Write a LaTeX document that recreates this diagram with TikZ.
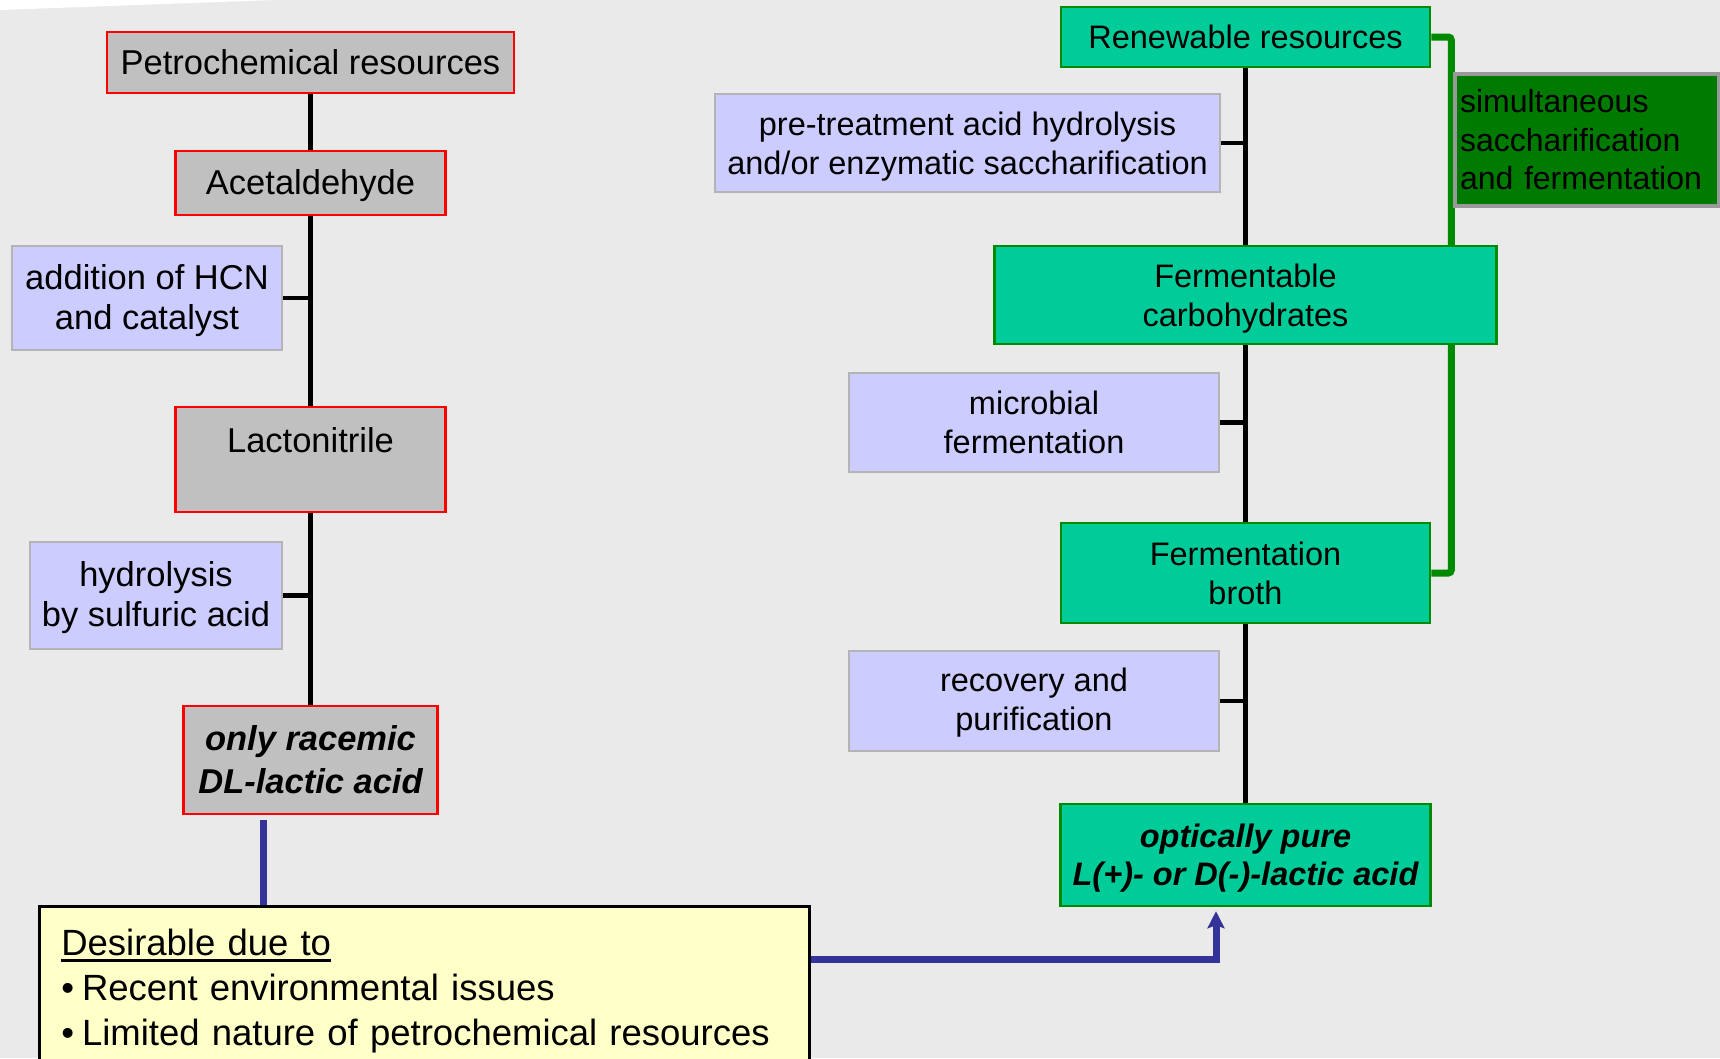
\documentclass[tikz,border=0pt]{standalone}
\usepackage{fontspec}
\setmainfont{Liberation Sans}
\usetikzlibrary{arrows.meta,backgrounds}
\definecolor{bgc}{HTML}{EAEAEA}
\definecolor{grayfill}{HTML}{C0C0C0}
\definecolor{redb}{HTML}{FF0000}
\definecolor{lavfill}{HTML}{CCCCFF}
\definecolor{lavb}{HTML}{B4B4B4}
\definecolor{grnfill}{HTML}{00CC99}
\definecolor{grnb}{HTML}{008A00}
\definecolor{ssffill}{HTML}{007A00}
\definecolor{ssfb}{HTML}{999999}
\definecolor{bluel}{HTML}{333399}
\definecolor{yelfill}{HTML}{FFFFC8}
\newcommand\fntL{\fontsize{34.5bp}{40bp}\selectfont}
\newcommand\fntLB{\fontsize{34.5bp}{43bp}\selectfont\bfseries\itshape}
\newcommand\fntR{\fontsize{32.5bp}{39bp}\selectfont}
\newcommand\fntRB{\fontsize{32.5bp}{38.5bp}\selectfont\bfseries\itshape}
\newcommand\fntS{\fontsize{32bp}{38.5bp}\selectfont}
\newcommand\fntY{\fontsize{36.5bp}{45bp}\selectfont}
\newcommand\dn[1]{\rule{0pt}{#1}}
\newsavebox\myulbox
\newcommand\myul[1]{\sbox\myulbox{#1}\rlap{\rule[-7bp]{\wd\myulbox}{2.8bp}}\usebox\myulbox}
\begin{document}
\begin{tikzpicture}[x=1bp,y=-1bp,
  box/.style={inner sep=0pt, align=center, line width=2.5bp},
  graybox/.style={box, fill=grayfill, draw=redb, font=\fntL},
  lavbox/.style={box, fill=lavfill, draw=lavb},
  grnbox/.style={box, fill=grnfill, draw=grnb, font=\fntR},
  blk/.style={line width=4.5bp, black},
  gline/.style={line width=7bp, draw=grnb, rounded corners=3bp},
  bline/.style={line width=7bp, draw=bluel}
]
\clip (0,0) rectangle (1720,1058);

% left column
\node[graybox, minimum width=407bp, minimum height=61bp] (petro) at (310.5,62.5) {Petrochemical resources};
\node[graybox, minimum width=270bp, minimum height=64bp] (acet) at (310.5,183) {\dn{31bp}Acetaldehyde};
\node[lavbox, font=\fntL, minimum width=270bp, minimum height=104bp] (hcn) at (147,298) {\dn{31bp}addition of HCN\\and catalyst};
\node[graybox, minimum width=270bp, minimum height=105bp] (lacto) at (310.5,459.5) {Lactonitrile\\\mbox{}};
\node[lavbox, font=\fntL, minimum width=252bp, minimum height=107bp] (hydro) at (156,595.5) {\dn{29bp}hydrolysis\\by sulfuric acid};
\node[graybox, font=\fntLB, minimum width=254bp, minimum height=108bp] (racemic) at (310.5,760) {only racemic\\DL-lactic acid};

% right column
\node[grnbox, minimum width=369bp, minimum height=60bp] (renew) at (1245.5,37) {Renewable resources};
\node[lavbox, font=\fntR, minimum width=505bp, minimum height=98bp] (pre) at (967.5,143) {\dn{30bp}pre-treatment acid hydrolysis\\and/or enzymatic saccharification};
\node[grnbox, minimum width=502bp, minimum height=98bp] (ferm) at (1245.5,295) {\dn{31bp}Fermentable\\carbohydrates};
\node[lavbox, font=\fntR, minimum width=370bp, minimum height=99bp] (micro) at (1034,422.5) {microbial\\fermentation};
\node[grnbox, minimum width=369bp, minimum height=100bp] (broth) at (1245.5,573) {Fermentation\\broth};
\node[lavbox, font=\fntR, minimum width=370bp, minimum height=100bp] (recov) at (1034,701) {\dn{27bp}recovery and\\purification};
\node[grnbox, font=\fntRB, minimum width=370bp, minimum height=102bp] (optic) at (1245.5,855) {\dn{30bp}optically pure\\L(+)- or D(-)-lactic acid};

% simultaneous saccharification box
\node[box, fill=ssffill, draw=ssfb, line width=4bp, font=\fntS, align=left,
      anchor=north west, minimum width=264bp, minimum height=132bp,
      inner xsep=5bp, text width=254bp] (ssf) at (1453,72)
      {simultaneous\\saccharification\\and fermentation};

% yellow box
\node[box, fill=yelfill, draw=black, line width=2.5bp, font=\fntY, align=left,
      anchor=north west, minimum width=770bp, minimum height=162bp,
      inner xsep=22bp, text width=726bp] (yellow) at (38,905)
      {\dn{33.5bp}\myul{Desirable due to}\\
       •\hspace{8bp}Recent environmental issues\\
       •\hspace{8bp}Limited nature of petrochemical resources};

% background and connectors behind the boxes
\begin{scope}[on background layer]
  \fill[bgc] (0,0) rectangle (1720,1058);
  \fill[white] (0,0) -- (275,0) -- (0,10) -- cycle;
  \draw[blk] (petro.south) -- (racemic.north);
  \draw[blk] (hcn.east) -- (hcn.east -| petro.south);
  \draw[blk] (hydro.east) -- (hydro.east -| petro.south);
  \draw[blk] (renew.south) -- (optic.north);
  \draw[blk] (pre.east) -- (pre.east -| renew.south);
  \draw[blk] (micro.east) -- (micro.east -| renew.south);
  \draw[blk] (recov.east) -- (recov.east -| renew.south);
  \draw[gline] (renew.east) -| ([xshift=20bp]broth.east) -- (broth.east);
\end{scope}

% blue connectors
\draw[bline, shorten <=5bp] ([xshift=-47.5bp]racemic.south) -- ([xshift=-47.5bp]racemic.south |- yellow.north);
\draw[bline, -{Stealth[length=17bp,width=17bp,inset=3bp]}, shorten >=4bp]
  ([yshift=28bp]yellow.east) -| ([xshift=-29.5bp]optic.south);
\end{tikzpicture}
\end{document}
